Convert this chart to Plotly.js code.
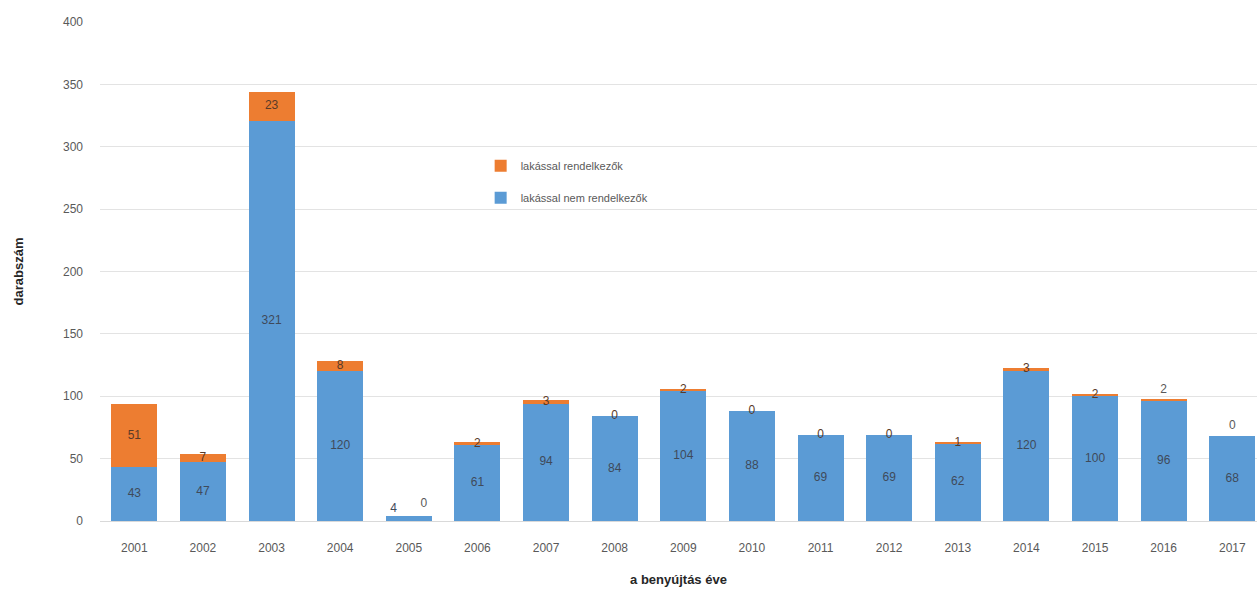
<!DOCTYPE html>
<html>
<head>
<meta charset="utf-8">
<script src="https://cdn.plot.ly/plotly-3.0.1.min.js"></script>
<style>html,body{margin:0;padding:0;background:#fff;}#chart{width:1257px;height:589px;}</style>
</head>
<body>
<div id="chart"></div>
<script>
const years = ['2001','2002','2003','2004','2005','2006','2007','2008','2009','2010','2011','2012','2013','2014','2015','2016','2017'];
const nemRendelkezok = [43,47,321,120,4,61,94,84,104,88,69,69,62,120,100,96,68];
const rendelkezok = [51,7,23,8,0,2,3,0,2,0,0,0,1,3,2,2,0];
const seriesNames = ['lakással nem rendelkezők','lakással rendelkezők'];
const xTitle = 'a benyújtás éve';
const yTitle = 'darabszám';

const BLUE = '#5B9BD5', ORANGE = '#ED7D31';
const FONT = 'Liberation Sans, Arial, sans-serif';
const XRANGE = [-0.5, 16.36];

const traces = [
  {type:'bar', name:seriesNames[0], x:years, y:nemRendelkezok, marker:{color:BLUE}, legendgroup:'a', legendrank:2},
  {type:'bar', name:seriesNames[1], x:years, y:rendelkezok, marker:{color:ORANGE}, legendgroup:'b', legendrank:1}
];

// data labels as text traces on a hidden linear overlay axis (same range as category axis)
const pxPerUnitY = 499 / 400;
const blueLblX = [], blueLblY = [], blueLblT = [];
const orLblX = [], orLblY = [], orLblT = [], orLblC = [];
const orangeAbove = {'2016': 10, '2017': 10};
years.forEach((yr, i) => {
  const b = nemRendelkezok[i], o = rendelkezok[i];
  if (b < 10) {
    blueLblX.push(i - 0.22); blueLblY.push(b + 7 / pxPerUnitY);
    orLblX.push(i + 0.22); orLblY.push(b + 12 / pxPerUnitY); orLblC.push('#595959');
  } else {
    blueLblX.push(i); blueLblY.push(b / 2);
    orLblX.push(i);
    const up = orangeAbove[yr] || 0;
    orLblY.push(b + o / 2 + up / pxPerUnitY);
    orLblC.push(up ? '#595959' : '#5A3A28');
  }
  blueLblT.push(String(b)); orLblT.push(String(o));
});
traces.push({type:'scatter', mode:'text', x:blueLblX, y:blueLblY, text:blueLblT, xaxis:'x2',
  textposition:'middle center', textfont:{family:FONT, size:12, color:'#3F4A5A'}, showlegend:false, hoverinfo:'skip'});
traces.push({type:'scatter', mode:'text', x:orLblX, y:orLblY, text:orLblT, xaxis:'x2',
  textposition:'middle center', textfont:{family:FONT, size:12, color:orLblC}, showlegend:false, hoverinfo:'skip'});

const layout = {
  width:1257, height:589,
  margin:{l:100, r:0, t:22, b:68},
  paper_bgcolor:'#fff', plot_bgcolor:'#fff',
  barmode:'stack', bargap:0.33,
  font:{family:FONT, color:'#595959', size:12},
  showlegend:true,
  legend:{x:0.329, y:0.741, xanchor:'left', yanchor:'top', traceorder:'grouped',
    bgcolor:'rgba(0,0,0,0)', font:{size:11,color:'#595959'}, tracegroupgap:13},
  xaxis:{type:'category', range:XRANGE, showgrid:false, zeroline:false,
    showline:true, linecolor:'#D9D9D9', ticks:'', ticklabelstandoff:16, tickfont:{size:12,color:'#595959'},
    title:{text:xTitle, font:{size:13,color:'#262626',family:FONT, weight:'bold'}, standoff:20}},
  xaxis2:{overlaying:'x', range:XRANGE, visible:false, showgrid:false, zeroline:false},
  yaxis:{range:[0,400], dtick:50, showgrid:true, gridcolor:'#E3E3E3', zeroline:false,
    showline:false, ticks:'', ticklabelstandoff:16, tickfont:{size:12,color:'#595959'},
    title:{text:yTitle, font:{size:13,color:'#262626',family:FONT, weight:'bold'}, standoff:36}}
};

Plotly.newPlot('chart', traces, layout, {displayModeBar:false, staticPlot:true});
</script>
</body>
</html>
